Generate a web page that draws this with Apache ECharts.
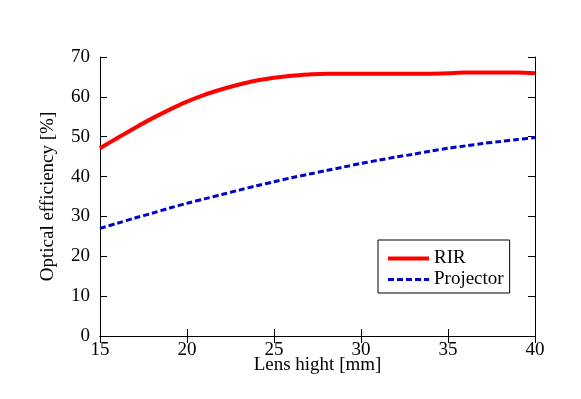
<!DOCTYPE html>
<html>
<head>
<meta charset="utf-8">
<script src="https://cdn.jsdelivr.net/npm/echarts@6/dist/echarts.min.js"></script>
<style>html,body{margin:0;padding:0;background:#fff;}#c{width:581px;height:399px;}</style>
</head>
<body>
<div id="c"></div>
<script>
const lensHeight = [15,16,17,18,19,20,21,22,23,24,25,26,27,28,29,30,31,32,33,34,35,36,37,38,39,40];
const rir = [47.1,49.7,52.2,54.6,56.8,58.8,60.5,61.9,63.1,64.1,64.8,65.3,65.6,65.8,65.8,65.8,65.8,65.8,65.8,65.8,65.9,66.1,66.1,66.1,66.1,65.9];
const projector = [27.0,28.3,29.6,30.8,32.1,33.3,34.4,35.5,36.6,37.7,38.7,39.7,40.6,41.5,42.4,43.3,44.1,44.9,45.6,46.4,47.1,47.7,48.3,48.8,49.3,49.8];
const seriesNames = ['RIR','Projector'];
const xTitle = 'Lens hight [mm]';
const yTitle = 'Optical efficiency [%]';

const font = 'Liberation Serif';
const chart = echarts.init(document.getElementById('c'), null, {renderer:'canvas'});
const pairs = arr => lensHeight.map((x,i)=>[x, arr[i]]);
const axLine = {show:true, lineStyle:{color:'#000', width:1}};
const axTick = {show:true, inside:true, length:7, lineStyle:{color:'#000', width:1}};
chart.setOption({
  animation:false,
  backgroundColor:'#fff',
  grid:{left:100, right:46, top:57, bottom:63},
  legend:{
    left:378, top:240, orient:'vertical',
    data: [
      {name:seriesNames[0], lineStyle:{width:4}},
      {name:seriesNames[1], lineStyle:{width:3}}
    ],
    itemWidth:41, itemHeight:14, itemGap:2,
    itemStyle:{opacity:0, borderWidth:0},
    borderColor:'#000', borderWidth:1, borderRadius:0,
    padding:[9,6,4,8],
    textStyle:{fontFamily:font, fontSize:19, color:'#000', lineHeight:16}
  },
  xAxis:[{
    type:'value', min:15, max:40, interval:5,
    name:xTitle, nameLocation:'middle', nameGap:20, nameMoveOverlap:false,
    nameTextStyle:{fontFamily:font, fontSize:19, color:'#000'},
    axisLine:axLine, axisTick:axTick, splitLine:{show:false},
    axisLabel:{fontFamily:font, fontSize:19, color:'#000', margin:5}
  },{
    type:'value', min:15, max:40, interval:5, position:'top',
    axisLine:axLine, axisTick:axTick, splitLine:{show:false},
    axisLabel:{show:false}
  }],
  yAxis:[{
    type:'value', min:0, max:70, interval:10,
    name:yTitle, nameLocation:'middle', nameGap:42, nameMoveOverlap:false,
    nameTextStyle:{fontFamily:font, fontSize:19, color:'#000'},
    axisLine:axLine, axisTick:axTick, splitLine:{show:false},
    axisLabel:{fontFamily:font, fontSize:19, color:'#000', margin:10}
  },{
    type:'value', min:0, max:70, interval:10, position:'right',
    axisLine:axLine, axisTick:axTick, splitLine:{show:false},
    axisLabel:{show:false}
  }],
  series:[{
    name:seriesNames[0], type:'line', data:pairs(rir), symbol:'none', smooth:0.3,
    lineStyle:{color:'#ff0000', width:4}, itemStyle:{color:'#ff0000'}
  },{
    name:seriesNames[1], type:'line', data:pairs(projector), symbol:'none', smooth:0.3,
    lineStyle:{color:'#0000cc', width:3, type:[6,3]}, itemStyle:{color:'#0000cc'}
  }]
});
</script>
</body>
</html>
